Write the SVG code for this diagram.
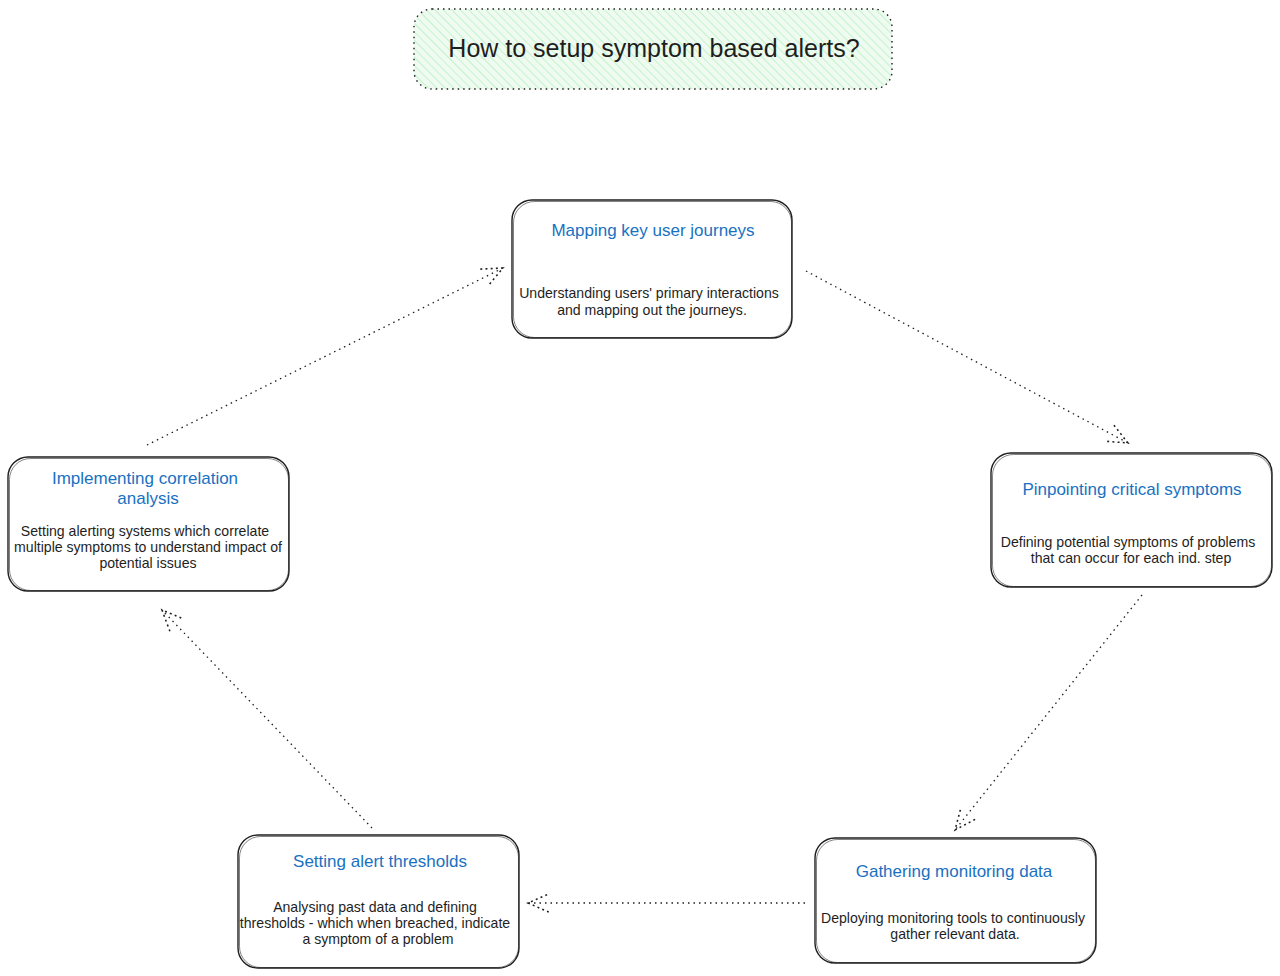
<svg xmlns="http://www.w3.org/2000/svg" width="1280" height="976" viewBox="0 0 1280 976">
<defs>
<pattern id="hatch" patternUnits="userSpaceOnUse" width="6" height="6" patternTransform="rotate(-45)">
<rect width="6" height="6" fill="#effaf1"/>
<line x1="0" y1="0" x2="0" y2="6" stroke="#b2f2bb" stroke-width="1.4"/>
</pattern>
<marker id="arr" viewBox="0 0 20 20" refX="18" refY="10" markerWidth="26" markerHeight="26" markerUnits="userSpaceOnUse" orient="auto">
<path d="M2 3 L18 10 L2 17" fill="none" stroke="#1e1e1e" stroke-width="1.2" stroke-dasharray="1.5 2.5"/>
</marker>
<style>
.box{fill:#ffffff;stroke:#1e1e1e;stroke-width:1.4}
.box2{fill:none;stroke:#1e1e1e;stroke-width:0.8;opacity:0.7}
.ttl{font-family:"Liberation Sans",Arial,sans-serif;font-size:17px;fill:#1971c2;text-anchor:middle}
.body{font-family:"Liberation Sans",Arial,sans-serif;font-size:14.1px;fill:#1e1e1e;text-anchor:middle}
.conn{fill:none;stroke:#1e1e1e;stroke-width:1.3;stroke-dasharray:1.5 4;marker-end:url(#arr)}
</style>
</defs>
<rect width="1280" height="976" fill="#ffffff"/>

<g id="title">
<rect x="414" y="9" width="478" height="80" rx="18" fill="url(#hatch)" stroke="#1e1e1e" stroke-width="1.4" stroke-dasharray="1.5 4"/>
<text x="654" y="57" font-family="&quot;Liberation Sans&quot;,Arial,sans-serif" font-size="25" fill="#1e1e1e" text-anchor="middle">How to setup symptom based alerts?</text>
</g>

<g id="connectors">
<path class="conn" d="M806 271 L1128 443"/>
<path class="conn" d="M1142 595 L955 830"/>
<path class="conn" d="M805 903 L528 903"/>
<path class="conn" d="M372 828 L162 610"/>
<path class="conn" d="M147 445 L503 268"/>
</g>

<g id="node-mapping">
<rect class="box" x="512" y="200" width="280" height="138" rx="20"/>
<rect class="box2" x="513.5" y="201.5" width="278" height="136" rx="21"/>
<text class="ttl" x="653" y="236">Mapping key user journeys</text>
<text class="body" x="649" y="298">Understanding users' primary interactions</text>
<text class="body" x="652" y="315">and mapping out the journeys.</text>
</g>

<g id="node-pinpointing">
<rect class="box" x="991" y="453" width="281" height="134" rx="20"/>
<rect class="box2" x="992.5" y="454.5" width="279" height="132" rx="21"/>
<text class="ttl" x="1132" y="495">Pinpointing critical symptoms</text>
<text class="body" x="1128" y="547">Defining potential symptoms of problems</text>
<text class="body" x="1131" y="563">that can occur for each ind. step</text>
</g>

<g id="node-gathering">
<rect class="box" x="815" y="838" width="281" height="125" rx="20"/>
<rect class="box2" x="816.5" y="839.5" width="279" height="123" rx="21"/>
<text class="ttl" x="954" y="877">Gathering monitoring data</text>
<text class="body" x="953" y="923">Deploying monitoring tools to continuously</text>
<text class="body" x="955" y="939">gather relevant data.</text>
</g>

<g id="node-setting">
<rect class="box" x="238" y="835" width="281" height="133" rx="20"/>
<rect class="box2" x="239.5" y="836.5" width="279" height="131" rx="21"/>
<text class="ttl" x="380" y="867">Setting alert thresholds</text>
<text class="body" x="375" y="912">Analysing past data and defining</text>
<text class="body" x="375" y="928">thresholds - which when breached, indicate</text>
<text class="body" x="378" y="944">a symptom of a problem</text>
</g>

<g id="node-implementing">
<rect class="box" x="8" y="457" width="281" height="134" rx="20"/>
<rect class="box2" x="9.5" y="458.5" width="279" height="132" rx="21"/>
<text class="ttl" x="145" y="484">Implementing correlation</text>
<text class="ttl" x="148" y="504">analysis</text>
<text class="body" x="145" y="536">Setting alerting systems which correlate</text>
<text class="body" x="148" y="552">multiple symptoms to understand impact of</text>
<text class="body" x="148" y="568">potential issues</text>
</g>
</svg>
